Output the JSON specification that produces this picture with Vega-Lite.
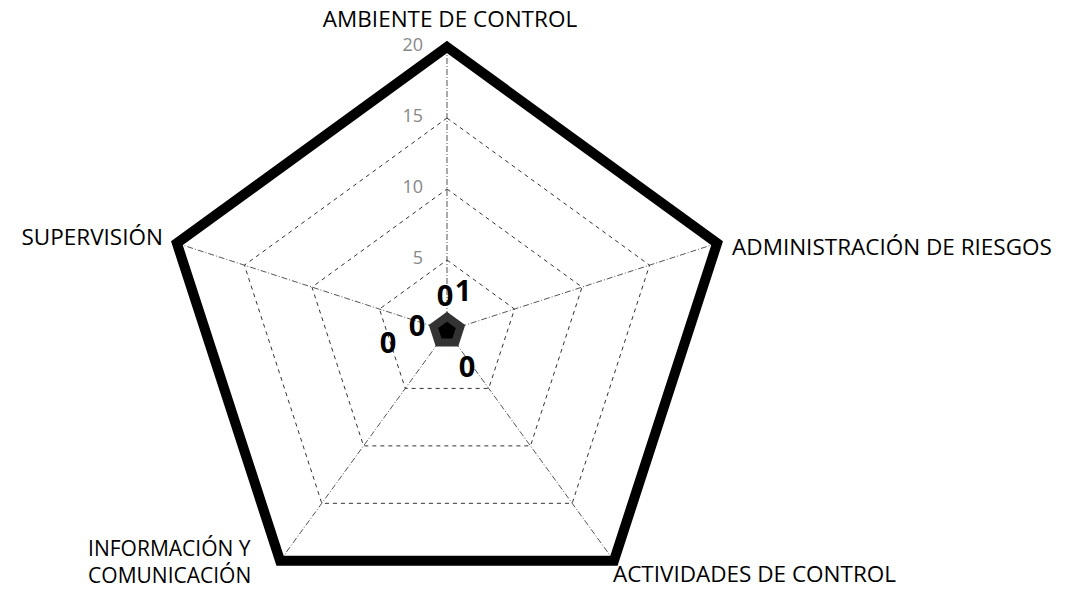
{
  "$schema": "https://vega.github.io/schema/vega-lite/v6.json",
  "width": 1078,
  "height": 607,
  "autosize": "none",
  "padding": 0,
  "background": "white",
  "config": {"view": {"stroke": null}, "font": "Open Sans"},
  "datasets": {
    "ejes": [
      {"eje": "AMBIENTE DE CONTROL", "idx": 0, "valor": 20},
      {"eje": "ADMINISTRACIÓN DE RIESGOS", "idx": 1, "valor": 20},
      {"eje": "ACTIVIDADES DE CONTROL", "idx": 2, "valor": 20},
      {"eje": "INFORMACIÓN Y\nCOMUNICACIÓN", "idx": 3, "valor": 20},
      {"eje": "SUPERVISIÓN", "idx": 4, "valor": 20}
    ],
    "anillos": [
      {"valor": 5, "idx": 0}, {"valor": 5, "idx": 1}, {"valor": 5, "idx": 2}, {"valor": 5, "idx": 3}, {"valor": 5, "idx": 4},
      {"valor": 10, "idx": 0}, {"valor": 10, "idx": 1}, {"valor": 10, "idx": 2}, {"valor": 10, "idx": 3}, {"valor": 10, "idx": 4},
      {"valor": 15, "idx": 0}, {"valor": 15, "idx": 1}, {"valor": 15, "idx": 2}, {"valor": 15, "idx": 3}, {"valor": 15, "idx": 4}
    ],
    "marcas": [
      {"valor": 5, "idx": 0}, {"valor": 10, "idx": 0}, {"valor": 15, "idx": 0}, {"valor": 20, "idx": 0}
    ],
    "series": [
      {"serie": "Serie 3", "eje": "AMBIENTE DE CONTROL", "idx": 0, "valor": 20},
      {"serie": "Serie 3", "eje": "ADMINISTRACIÓN DE RIESGOS", "idx": 1, "valor": 20},
      {"serie": "Serie 3", "eje": "ACTIVIDADES DE CONTROL", "idx": 2, "valor": 20},
      {"serie": "Serie 3", "eje": "INFORMACIÓN Y COMUNICACIÓN", "idx": 3, "valor": 20},
      {"serie": "Serie 3", "eje": "SUPERVISIÓN", "idx": 4, "valor": 20},
      {"serie": "Serie 2", "eje": "AMBIENTE DE CONTROL", "idx": 0, "valor": 1},
      {"serie": "Serie 2", "eje": "ADMINISTRACIÓN DE RIESGOS", "idx": 1, "valor": 1},
      {"serie": "Serie 2", "eje": "ACTIVIDADES DE CONTROL", "idx": 2, "valor": 1},
      {"serie": "Serie 2", "eje": "INFORMACIÓN Y COMUNICACIÓN", "idx": 3, "valor": 1},
      {"serie": "Serie 2", "eje": "SUPERVISIÓN", "idx": 4, "valor": 1},
      {"serie": "Serie 1", "eje": "AMBIENTE DE CONTROL", "idx": 0, "valor": 0},
      {"serie": "Serie 1", "eje": "ACTIVIDADES DE CONTROL", "idx": 2, "valor": 0},
      {"serie": "Serie 1", "eje": "INFORMACIÓN Y COMUNICACIÓN", "idx": 3, "valor": 0},
      {"serie": "Serie 1", "eje": "SUPERVISIÓN", "idx": 4, "valor": 0}
    ]
  },
  "encoding": {
    "x": {"field": "x", "type": "quantitative", "scale": {"domain": [-31.479, 44.437], "nice": false, "zero": false}, "axis": null},
    "y": {"field": "y", "type": "quantitative", "scale": {"domain": [-19.437, 23.31], "nice": false, "zero": false}, "axis": null}
  },
  "layer": [
    {
      "data": {"name": "ejes"},
      "transform": [
        {"calculate": "datum.idx * 2 * PI / 5", "as": "ang"},
        {"calculate": "datum.valor * sin(datum.ang)", "as": "x"},
        {"calculate": "datum.valor * cos(datum.ang)", "as": "y"}
      ],
      "mark": {"type": "rule", "color": "#555", "strokeWidth": 1, "strokeDash": [6, 2, 1, 2]},
      "encoding": {"x2": {"datum": 0}, "y2": {"datum": 0}}
    },
    {
      "data": {"name": "anillos"},
      "transform": [
        {"calculate": "datum.idx * 2 * PI / 5", "as": "ang"},
        {"calculate": "datum.valor * sin(datum.ang)", "as": "x"},
        {"calculate": "datum.valor * cos(datum.ang)", "as": "y"}
      ],
      "mark": {"type": "line", "interpolate": "linear-closed", "color": "#333", "strokeWidth": 1, "strokeDash": [4, 4]},
      "encoding": {"detail": {"field": "valor"}, "order": {"field": "idx"}}
    },
    {
      "data": {"name": "series"},
      "transform": [
        {"filter": "datum.serie === 'Serie 3'"},
        {"calculate": "datum.idx * 2 * PI / 5", "as": "ang"},
        {"calculate": "datum.valor * sin(datum.ang)", "as": "x"},
        {"calculate": "datum.valor * cos(datum.ang)", "as": "y"}
      ],
      "mark": {"type": "line", "interpolate": "linear-closed", "color": "#000", "strokeWidth": 10, "strokeJoin": "miter"},
      "encoding": {"order": {"field": "idx"}}
    },
    {
      "data": {"name": "series"},
      "transform": [
        {"filter": "datum.serie === 'Serie 2'"},
        {"calculate": "datum.idx * 2 * PI / 5", "as": "ang"},
        {"calculate": "datum.valor * sin(datum.ang)", "as": "x"},
        {"calculate": "datum.valor * cos(datum.ang)", "as": "y"}
      ],
      "mark": {"type": "line", "interpolate": "linear-closed", "stroke": "#333", "fill": "#000", "filled": true, "strokeWidth": 8, "strokeJoin": "miter"},
      "encoding": {"order": {"field": "idx"}}
    },
    {
      "data": {"name": "marcas"},
      "transform": [
        {"calculate": "datum.valor * sin(0)", "as": "x"},
        {"calculate": "datum.valor * cos(0)", "as": "y"}
      ],
      "mark": {"type": "text", "align": "right", "baseline": "middle", "dx": -24, "dy": -1, "fontSize": 18, "color": "#888"},
      "encoding": {"text": {"field": "valor", "type": "quantitative"}}
    },
    {
      "data": {"name": "ejes"},
      "transform": [
        {"filter": "datum.idx === 0"},
        {"calculate": "datum.idx * 2 * PI / 5", "as": "ang"},
        {"calculate": "datum.valor * sin(datum.ang)", "as": "x"},
        {"calculate": "datum.valor * cos(datum.ang)", "as": "y"}
      ],
      "mark": {"type": "text", "align": "center", "baseline": "alphabetic", "dx": 3, "dy": -20, "fontSize": 22.5, "color": "#000"},
      "encoding": {"text": {"field": "eje"}}
    },
    {
      "data": {"name": "ejes"},
      "transform": [
        {"filter": "datum.idx === 1"},
        {"calculate": "datum.idx * 2 * PI / 5", "as": "ang"},
        {"calculate": "datum.valor * sin(datum.ang)", "as": "x"},
        {"calculate": "datum.valor * cos(datum.ang)", "as": "y"}
      ],
      "mark": {"type": "text", "align": "left", "baseline": "alphabetic", "dx": 15, "dy": 12, "fontSize": 22.5, "color": "#000"},
      "encoding": {"text": {"field": "eje"}}
    },
    {
      "data": {"name": "ejes"},
      "transform": [
        {"filter": "datum.idx === 2"},
        {"calculate": "datum.idx * 2 * PI / 5", "as": "ang"},
        {"calculate": "datum.valor * sin(datum.ang)", "as": "x"},
        {"calculate": "datum.valor * cos(datum.ang)", "as": "y"}
      ],
      "mark": {"type": "text", "align": "left", "baseline": "alphabetic", "dx": -1, "dy": 21, "fontSize": 22.5, "color": "#000"},
      "encoding": {"text": {"field": "eje"}}
    },
    {
      "data": {"name": "ejes"},
      "transform": [
        {"filter": "datum.idx === 3"},
        {"calculate": "datum.idx * 2 * PI / 5", "as": "ang"},
        {"calculate": "datum.valor * sin(datum.ang)", "as": "x"},
        {"calculate": "datum.valor * cos(datum.ang)", "as": "y"}
      ],
      "mark": {"type": "text", "align": "left", "baseline": "alphabetic", "dx": -192, "dy": -5, "fontSize": 21, "lineHeight": 27, "lineBreak": "\n", "color": "#000"},
      "encoding": {"text": {"field": "eje"}}
    },
    {
      "data": {"name": "ejes"},
      "transform": [
        {"filter": "datum.idx === 4"},
        {"calculate": "datum.idx * 2 * PI / 5", "as": "ang"},
        {"calculate": "datum.valor * sin(datum.ang)", "as": "x"},
        {"calculate": "datum.valor * cos(datum.ang)", "as": "y"}
      ],
      "mark": {"type": "text", "align": "right", "baseline": "alphabetic", "dx": -14, "dy": 2, "fontSize": 22.5, "color": "#000"},
      "encoding": {"text": {"field": "eje"}}
    },
    {
      "data": {"name": "series"},
      "transform": [
        {"filter": "datum.serie === 'Serie 1' && datum.idx === 0"},
        {"calculate": "datum.idx * 2 * PI / 5", "as": "ang"},
        {"calculate": "datum.valor * sin(datum.ang)", "as": "x"},
        {"calculate": "datum.valor * cos(datum.ang)", "as": "y"}
      ],
      "mark": {"type": "text", "align": "center", "baseline": "middle", "dx": -2, "dy": -34, "fontSize": 29, "fontWeight": "bold", "color": "#000"},
      "encoding": {"text": {"field": "valor", "type": "quantitative"}}
    },
    {
      "data": {"name": "series"},
      "transform": [
        {"filter": "datum.serie === 'Serie 2' && datum.idx === 0"},
        {"calculate": "datum.idx * 2 * PI / 5", "as": "ang"},
        {"calculate": "datum.valor * sin(datum.ang)", "as": "x"},
        {"calculate": "datum.valor * cos(datum.ang)", "as": "y"}
      ],
      "mark": {"type": "text", "align": "center", "baseline": "middle", "dx": 16, "dy": -25, "fontSize": 29, "fontWeight": "bold", "color": "#000"},
      "encoding": {"text": {"field": "valor", "type": "quantitative"}}
    },
    {
      "data": {"name": "series"},
      "transform": [
        {"filter": "datum.serie === 'Serie 1' && datum.idx === 2"},
        {"calculate": "datum.idx * 2 * PI / 5", "as": "ang"},
        {"calculate": "datum.valor * sin(datum.ang)", "as": "x"},
        {"calculate": "datum.valor * cos(datum.ang)", "as": "y"}
      ],
      "mark": {"type": "text", "align": "center", "baseline": "middle", "dx": 20, "dy": 37, "fontSize": 29, "fontWeight": "bold", "color": "#000"},
      "encoding": {"text": {"field": "valor", "type": "quantitative"}}
    },
    {
      "data": {"name": "series"},
      "transform": [
        {"filter": "datum.serie === 'Serie 1' && datum.idx === 3"},
        {"calculate": "datum.idx * 2 * PI / 5", "as": "ang"},
        {"calculate": "datum.valor * sin(datum.ang)", "as": "x"},
        {"calculate": "datum.valor * cos(datum.ang)", "as": "y"}
      ],
      "mark": {"type": "text", "align": "center", "baseline": "middle", "dx": -59, "dy": 13, "fontSize": 29, "fontWeight": "bold", "color": "#000"},
      "encoding": {"text": {"field": "valor", "type": "quantitative"}}
    },
    {
      "data": {"name": "series"},
      "transform": [
        {"filter": "datum.serie === 'Serie 1' && datum.idx === 4"},
        {"calculate": "datum.idx * 2 * PI / 5", "as": "ang"},
        {"calculate": "datum.valor * sin(datum.ang)", "as": "x"},
        {"calculate": "datum.valor * cos(datum.ang)", "as": "y"}
      ],
      "mark": {"type": "text", "align": "center", "baseline": "middle", "dx": -30, "dy": -4, "fontSize": 29, "fontWeight": "bold", "color": "#000"},
      "encoding": {"text": {"field": "valor", "type": "quantitative"}}
    }
  ]
}
